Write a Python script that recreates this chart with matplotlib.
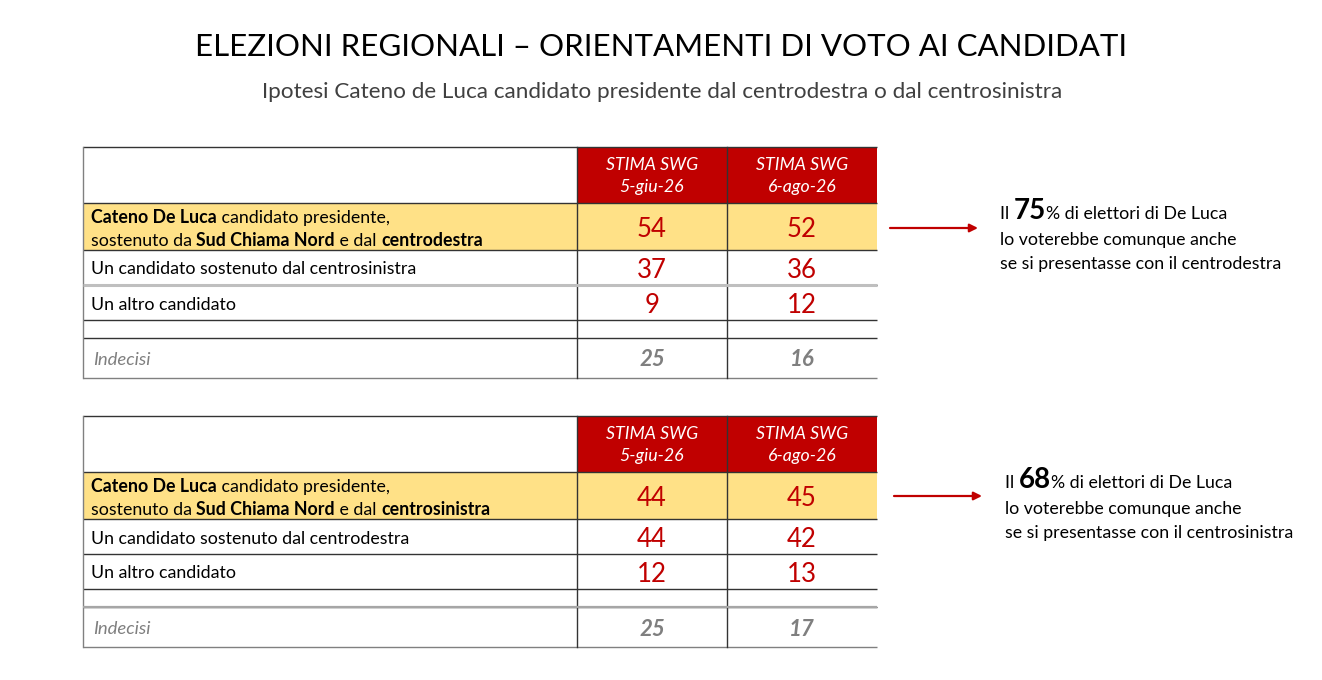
import matplotlib
matplotlib.use("Agg")
import matplotlib.pyplot as plt

RED = "#C00000"; YELLOW = "#FFE187"; GREY = "#7F7F7F"; DARK = "#333333"
plt.rcParams["font.family"] = ["Lato", "DejaVu Sans"]

title = "ELEZIONI REGIONALI \u2013 ORIENTAMENTI DI VOTO AI CANDIDATI"
subtitle = "Ipotesi Cateno de Luca candidato presidente dal centrodestra o dal centrosinistra"
col_labels = ["STIMA SWG\n5-giu-26", "STIMA SWG\n6-ago-26"]

# table 1: De Luca with centrodestra
t1_first = [("Cateno De Luca", "bold"), (" candidato presidente,", "normal")]
t1_second = [("sostenuto da ", "normal"), ("Sud Chiama Nord", "bold"), (" e dal ", "normal"), ("centrodestra", "bold")]
t1_rows = ["Un candidato sostenuto dal centrosinistra", "Un altro candidato"]
t1_jun = [54, 37, 9]
t1_ago = [52, 36, 12]
t1_undecided = [25, 16]
t1_share = 75
t1_note = ["lo voterebbe comunque anche", "se si presentasse con il centrodestra"]

# table 2: De Luca with centrosinistra
t2_first = [("Cateno De Luca", "bold"), (" candidato presidente,", "normal")]
t2_second = [("sostenuto da ", "normal"), ("Sud Chiama Nord", "bold"), (" e dal ", "normal"), ("centrosinistra", "bold")]
t2_rows = ["Un candidato sostenuto dal centrodestra", "Un altro candidato"]
t2_jun = [44, 44, 12]
t2_ago = [45, 42, 13]
t2_undecided = [25, 17]
t2_share = 68
t2_note = ["lo voterebbe comunque anche", "se si presentasse con il centrosinistra"]

LBL = 12.8   # body text size

fig = plt.figure(figsize=(13.22, 6.80), dpi=100)
ax = fig.add_axes([0, 0, 1, 1])
ax.set_xlim(0, 1322); ax.set_ylim(680, 0); ax.axis("off")
renderer = fig.canvas.get_renderer()


def pieces(x, y, parts, size, color="black"):
    # draw text segments one after another on a common baseline
    for txt, w, *rest in parts:
        s = rest[0] if rest else size
        t = ax.text(x, y, txt, fontsize=s, fontweight=w, color=color, va="baseline", ha="left")
        bb = t.get_window_extent(renderer)
        x += bb.width
    return x


def table(top, first, second, rows, jun, ago, undecided):
    xl, xa, xb, xr = 83, 577, 727, 877
    ys = [top, top + 56, top + 103, top + 138, top + 173, top + 191, top + 231]
    # fills
    for x0 in (xa, xb):
        ax.add_patch(plt.Rectangle((x0, ys[0]), 150, ys[1] - ys[0], color=RED, lw=0))
    ax.add_patch(plt.Rectangle((xl, ys[1]), xr - xl, ys[2] - ys[1], color=YELLOW, lw=0))
    # grid
    for i, y in enumerate(ys):
        col = "#808080" if i == len(ys) - 1 else DARK
        ax.plot([xl, xr], [y, y], color=col, lw=1.0, solid_capstyle="butt")
    for x in (xa, xb):
        ax.plot([x, x], [ys[0], ys[-1]], color=DARK, lw=1.0)
    ax.plot([xl, xl], [ys[0], ys[-1]], color="#808080", lw=1.0)
    # header
    for k, x0 in enumerate((xa, xb)):
        l1, l2 = col_labels[k].split("\n")
        ax.text(x0 + 75, ys[0] + 18, l1, color="white", style="italic", fontsize=12.8, ha="center", va="center")
        ax.text(x0 + 75, ys[0] + 40, l2, color="white", style="italic", fontsize=12.8, ha="center", va="center")
    # first (highlighted) row
    pieces(91, ys[1] + 20, first, LBL)
    pieces(91, ys[1] + 43, second, LBL)
    # other rows
    ax.text(91, (ys[2] + ys[3]) / 2 + 2, rows[0], fontsize=LBL, va="center")
    ax.text(91, (ys[3] + ys[4]) / 2 + 2, rows[1], fontsize=LBL, va="center")
    centers = [(ys[1] + ys[2]) / 2, (ys[2] + ys[3]) / 2, (ys[3] + ys[4]) / 2]
    for j, yc in enumerate(centers):
        ax.text(652, yc + 3, str(jun[j]), color=RED, fontsize=18.5, ha="center", va="center")
        ax.text(802, yc + 3, str(ago[j]), color=RED, fontsize=18.5, ha="center", va="center")
    yi = (ys[5] + ys[6]) / 2 + 2
    ax.text(93, yi, "Indecisi", color=GREY, style="italic", fontsize=13.3, va="center")
    ax.text(652, yi, str(undecided[0]), color=GREY, style="italic", fontweight="bold", fontsize=16, ha="center", va="center")
    ax.text(802, yi, str(undecided[1]), color=GREY, style="italic", fontweight="bold", fontsize=16, ha="center", va="center")
    return ys


ys1 = table(147, t1_first, t1_second, t1_rows, t1_jun, t1_ago, t1_undecided)
ys2 = table(416, t2_first, t2_second, t2_rows, t2_jun, t2_ago, t2_undecided)
# grey separators
ax.plot([83, 877], [ys1[3], ys1[3]], color="#BFBFBF", lw=2.2, solid_capstyle="butt")
ax.plot([83, 877], [ys2[5], ys2[5]], color="#A6A6A6", lw=1.6, solid_capstyle="butt")


def note(x, y, share, lines):
    pieces(x, y, [("Il ", "normal"), (str(share), "bold", 20), ("% di elettori di De Luca", "normal")], 12.8)
    for i, l in enumerate(lines):
        ax.text(x, y + 26 + 24 * i, l, fontsize=12.8, va="baseline")


ax.annotate("", xy=(978, 228), xytext=(890, 228),
            arrowprops=dict(arrowstyle="-|>", color=RED, lw=1.6, mutation_scale=12, shrinkA=0, shrinkB=0))
ax.annotate("", xy=(982, 496), xytext=(894, 496),
            arrowprops=dict(arrowstyle="-|>", color=RED, lw=1.6, mutation_scale=12, shrinkA=0, shrinkB=0))
note(1000, 219, t1_share, t1_note)
note(1005, 488, t2_share, t2_note)

ax.text(661, 47, title, fontsize=22.5, ha="center", va="center")
ax.text(662, 92, subtitle, fontsize=16.2, ha="center", va="center", color="#404040")

fig.savefig("out.png", dpi=100, facecolor="white")
